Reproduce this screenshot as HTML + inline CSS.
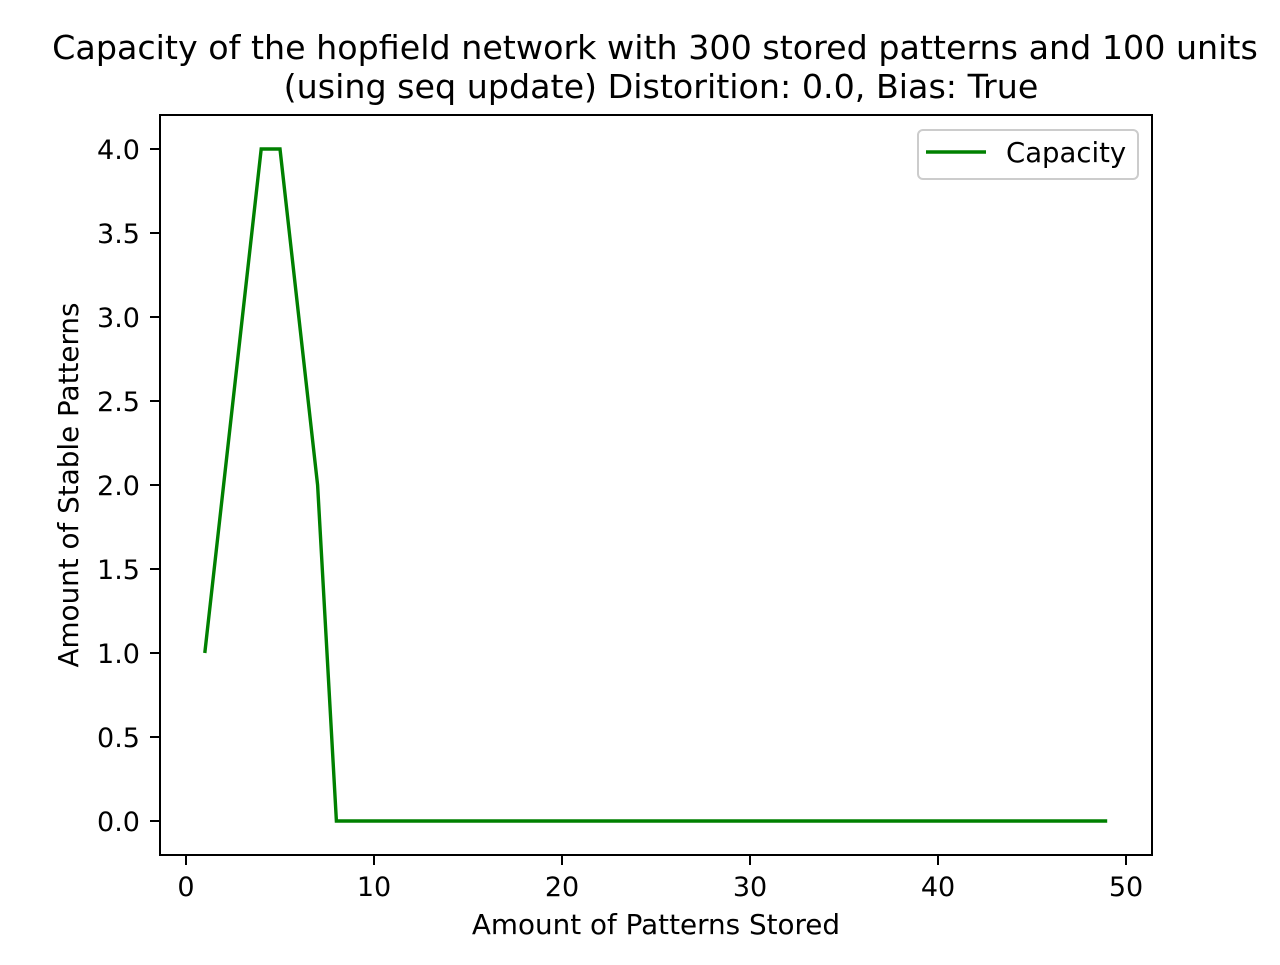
<!DOCTYPE html>
<html><head><meta charset="utf-8"><style>
body{margin:0;background:#fff}
svg text{font-family:"DejaVu Sans","Liberation Sans",sans-serif;fill:#000}
</style></head><body>
<svg id="c" width="1280" height="960">
<text x="655" y="59" style="font-size:33.3px" text-anchor="middle">Capacity of the hopfield network with 300 stored patterns and 100 units</text>
<text x="661" y="98" style="font-size:33.3px" text-anchor="middle">(using seq update) Distorition: 0.0, Bias: True</text>
<rect x="160" y="115" width="992" height="740" fill="none" stroke="#000" stroke-width="2"/>
<g id="xt"></g><g id="yt"></g>
<text x="656" y="934" style="font-size:27.8px" text-anchor="middle">Amount of Patterns Stored</text>
<text x="0" y="0" style="font-size:27.8px" text-anchor="middle" transform="translate(78,485) rotate(-90)">Amount of Stable Patterns</text>
<polyline id="line" fill="none" stroke="#008000" stroke-width="3.4"/>
<g>
<rect x="918" y="130" width="220" height="49" rx="5" fill="#fff" stroke="#ccc" stroke-width="2"/>
<line x1="926" y1="152" x2="986" y2="152" stroke="#008000" stroke-width="3.4"/>
<text x="1006" y="162" style="font-size:27.5px">Capacity</text>
</g>
</svg>
<script>
const xs=[1,2,3,4,5,6,7,8,9,10,11,12,13,14,15,16,17,18,19,20,21,22,23,24,25,26,27,28,29,30,31,32,33,34,35,36,37,38,39,40,41,42,43,44,45,46,47,48,49];
const capacity=[1,2,3,4,4,3,2,0,0,0,0,0,0,0,0,0,0,0,0,0,0,0,0,0,0,0,0,0,0,0,0,0,0,0,0,0,0,0,0,0,0,0,0,0,0,0,0,0,0];
const xTicks=[0,10,20,30,40,50];
const yTicks=[0,0.5,1,1.5,2,2.5,3,3.5,4];
const X=v=>186+v*18.8, Y=v=>821-v*168;
const NS="http://www.w3.org/2000/svg";
document.getElementById('line').setAttribute('points',xs.map((x,i)=>X(x)+','+Y(capacity[i])).join(' '));
const xt=document.getElementById('xt'),yt=document.getElementById('yt');
xTicks.forEach(t=>{
 const l=document.createElementNS(NS,'line');
 
 
 l.setAttribute('x1',X(t));l.setAttribute('x2',X(t));l.setAttribute('y1',855);l.setAttribute('y2',865);l.setAttribute('stroke','#000');l.setAttribute('stroke-width','2');
 xt.appendChild(l);
 const s=document.createElementNS(NS,'text');
 
 
 s.setAttribute('x',X(t));s.setAttribute('y',896);s.setAttribute('style','font-size:27px');s.setAttribute('text-anchor','middle');
 s.textContent=t;xt.appendChild(s);
});
yTicks.forEach(t=>{
 const l=document.createElementNS(NS,'line');
 
 
 l.setAttribute('x1',150);l.setAttribute('x2',160);l.setAttribute('y1',Y(t));l.setAttribute('y2',Y(t));l.setAttribute('stroke','#000');l.setAttribute('stroke-width','2');
 yt.appendChild(l);
 const s=document.createElementNS(NS,'text');
 
 
 s.setAttribute('x',140);s.setAttribute('y',Y(t)+10);s.setAttribute('style','font-size:27px');s.setAttribute('text-anchor','end');
 s.textContent=t.toFixed(1);yt.appendChild(s);
});
</script>
</body></html>
